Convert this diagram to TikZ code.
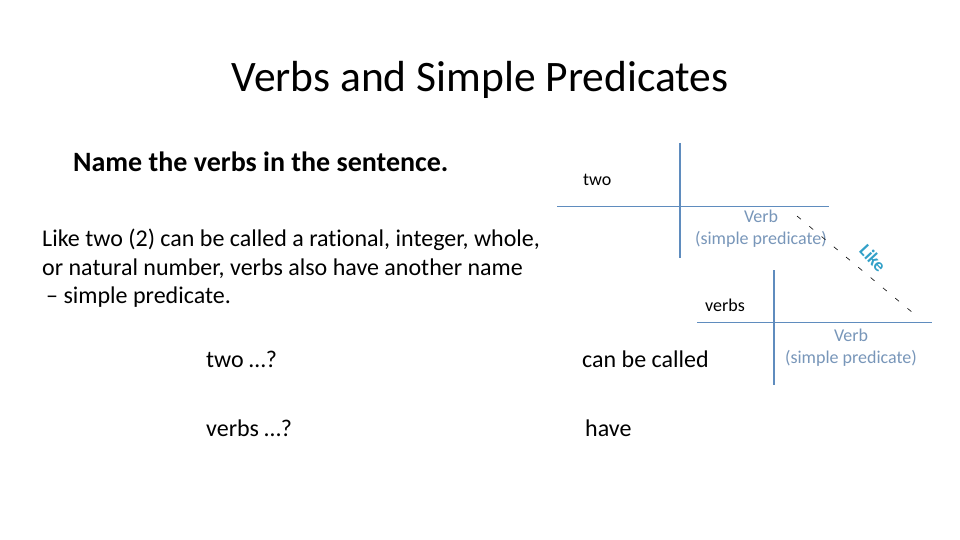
\documentclass[tikz,border=0pt]{standalone}
\usepackage{xcolor}
\usepackage{fontspec}
\setmainfont[Ligatures=NoCommon]{Carlito}
\usepackage{tikz}
\usetikzlibrary{positioning}
\definecolor{lineblue}{RGB}{95,140,190}
\definecolor{verbgray}{RGB}{120,150,185}
\definecolor{liketeal}{RGB}{50,160,200}
\begin{document}
\begin{tikzpicture}[x=1pt,y=-1pt,inner sep=0pt,
  word/.style={anchor=west,font=\fontsize{24}{28}\selectfont},
  small/.style={anchor=west,font=\fontsize{18}{21}\selectfont},
  label/.style={align=center,text=verbgray,font=\fontsize{18}{22}\selectfont},
  base line/.style={draw=lineblue,line width=1pt},
  split line/.style={draw=lineblue,line width=2.6pt}]
    \useasboundingbox (0,0) rectangle (960,540);

    \node (title) at (480,80) {\fontsize{43.5}{50}\selectfont Verbs and Simple Predicates};
    \node[anchor=west,font=\fontsize{28}{32}\selectfont\bfseries] (task) at (73,162) {Name the verbs in the sentence.};
    \node[anchor=north west,align=left,font=\fontsize{24}{28.5}\selectfont] (para) at (42,229)
      {Like two (2) can be called a rational, integer, whole,\\
       or natural number, verbs also have another name\\
       \,-- simple predicate.};

    \node[word] (q1) at (206,359) {two \dots?};
    \node[word] (q2) at (206,428) {verbs \dots?};
    \node[word] (a1) at (582,359) {can be called};
    \node[word] (a2) at (585,428) {have};

    % first diagram line
    \coordinate (h1a) at (557,206);
    \coordinate (h1b) at (829,206);
    \coordinate (v1a) at (680,143);
    \coordinate (v1b) at (680,258);
    \draw[base line] (h1a) -- (h1b);
    \draw[split line] (v1a) -- (v1b);
    \node[small] (two) at (583,180) {two};
    \node[label] (verb1) at (761,229) {Verb\\(simple predicate)};

    % second diagram line
    \coordinate (h2a) at (697,322);
    \coordinate (h2b) at (932,322);
    \coordinate (v2a) at (774,270);
    \coordinate (v2b) at (774,385);
    \draw[base line] (h2a) -- (h2b);
    \draw[split line] (v2a) -- (v2b);
    \node[small] (verbs) at (705,305) {verbs};
    \node[label] (verb2) at (851,348) {Verb\\(simple predicate)};

    % link
    \coordinate (d1) at (797,216);
    \coordinate (d2) at (919,318);
    \draw[black,line width=0.6pt,dash pattern=on 5pt off 11pt] (d1) -- (d2);
    \node[rotate=-47,text=liketeal,font=\fontsize{18}{21}\selectfont\bfseries] (like) at (873,258) {Like};
  \end{tikzpicture}
\end{document}
